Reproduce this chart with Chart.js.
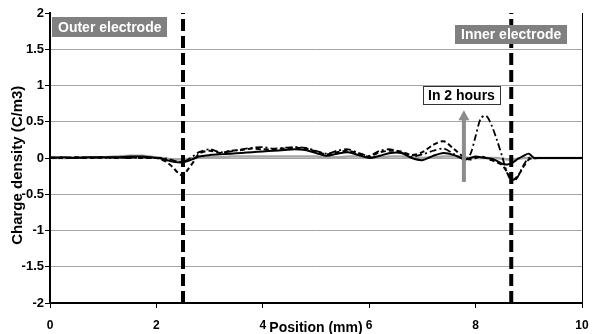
<!DOCTYPE html>
<html>
<head>
<meta charset="utf-8">
<script src="https://cdn.jsdelivr.net/npm/chart.js@4/dist/chart.umd.min.js"></script>
<style>
  body { margin: 0; background: #fff; }
</style>
</head>
<body>
<canvas id="canvas" width="593" height="334"></canvas>
<script>
// position across the cell (mm)
let positions = [
  0, 0.25, 0.5, 0.75, 1, 1.25, 1.5, 1.75, 2,
  2.1, 2.2, 2.3, 2.4, 2.5, 2.6, 2.7, 2.8,
  3, 3.2, 3.4, 3.6, 3.8, 4, 4.2, 4.4, 4.6, 4.8,
  5, 5.2, 5.4, 5.6, 5.8, 6, 6.2, 6.4, 6.6, 6.8,
  7, 7.2, 7.4, 7.6, 7.8,
  7.9, 8, 8.1, 8.2, 8.3, 8.4, 8.5, 8.6, 8.7, 8.8, 8.9, 9, 9.1, 9.2,
  9.5, 10
];

// charge density profiles (C/m3)
let profileStart = [
  0, 0, 0.01, 0.01, 0.01, 0.02, 0.03, 0.03, 0.01,
  0, -0.01, -0.02, -0.02, -0.02, -0.01, 0, 0.01,
  0.01, 0.01, 0.02, 0.02, 0.02, 0.02, 0.02, 0.02, 0.02, 0.02,
  0.02, 0.01, 0.01, 0.02, 0.02, 0.01, 0.01, 0.02, 0.02, 0.01,
  0, 0.01, 0.02, 0.02, 0.01,
  0, 0, 0, 0, 0, 0, -0.01, -0.02, -0.02, -0.01, 0, 0, 0, 0,
  0, 0
];
let profileSolid = [
  0, 0.01, 0, 0.01, 0.01, 0.01, 0.02, 0.02, 0,
  -0.01, -0.03, -0.05, -0.06, -0.06, -0.04, -0.01, 0.02,
  0.04, 0.05, 0.06, 0.07, 0.08, 0.09, 0.1, 0.11, 0.12, 0.11,
  0.07, 0.03, 0.06, 0.08, 0.04, 0, 0.03, 0.07, 0.07, 0,
  -0.03, 0.03, 0.07, 0.04, -0.02,
  0, 0.02, 0.01, 0, -0.01, -0.04, -0.08, -0.09, -0.06, -0.01, 0.03, 0.06, 0, 0,
  0, 0
];
let profileDash = [
  0.01, 0, 0.01, 0, 0.01, 0, 0.01, 0, 0,
  -0.02, -0.06, -0.12, -0.2, -0.24, -0.15, -0.05, 0.06,
  0.1, 0.07, 0.1, 0.11, 0.13, 0.12, 0.12, 0.13, 0.14, 0.13,
  0.09, 0.05, 0.08, 0.1, 0.06, 0.02, 0.08, 0.1, 0.09, 0.04,
  0.08, 0.18, 0.23, 0.12, 0,
  -0.02, 0, 0.02, 0, -0.03, -0.06, -0.1, -0.2, -0.3, -0.24, -0.12, -0.02, 0, 0,
  0, 0
];
let profileDashDot = [
  0, 0.01, 0, 0.01, 0, 0.01, 0, 0.01, 0,
  0, -0.01, -0.03, -0.05, -0.05, -0.02, 0.03, 0.08,
  0.12, 0.08, 0.09, 0.12, 0.14, 0.15, 0.13, 0.14, 0.15, 0.14,
  0.1, 0.06, 0.1, 0.12, 0.07, 0.03, 0.1, 0.12, 0.08, 0.02,
  0.05, 0.1, 0.13, 0.05, -0.02,
  0.05, 0.3, 0.55, 0.58, 0.45, 0.25, 0.02, -0.22, -0.33, -0.25, -0.1, 0, 0, 0,
  0, 0
];

// electrode positions (mm)
let outerElectrode = 2.5;
let innerElectrode = 8.67;

// axis ticks
let xTicks = [0, 2, 4, 6, 8, 10];
let yTicks = [-2, -1.5, -1, -0.5, 0, 0.5, 1, 1.5, 2];

let font = '"Liberation Sans", Arial, sans-serif';

function points(values) {
  return positions.map((x, i) => ({ x: x, y: values[i] }));
}

function electrode(x) {
  return [{ x: x, y: -2 }, { x: x, y: 2 }];
}

// labels, arrow, y title and right frame line drawn over the plot
let notes = {
  id: 'notes',
  afterDatasetsDraw(chart) {
    let { ctx, chartArea, scales: { x, y } } = chart;
    ctx.save();

    // right border of the plot area
    ctx.strokeStyle = '#000';
    ctx.lineWidth = 1;
    ctx.beginPath();
    ctx.moveTo(chartArea.right + 0.5, chartArea.top);
    ctx.lineTo(chartArea.right + 0.5, chartArea.bottom);
    ctx.stroke();

    // grey arrow
    let ax = x.getPixelForValue(7.78);
    let ay0 = y.getPixelForValue(-0.33);
    let ay1 = y.getPixelForValue(0.66);
    ctx.fillStyle = '#8c8c8c';
    ctx.fillRect(ax - 2, ay1 + 9, 4, ay0 - ay1 - 9);
    ctx.beginPath();
    ctx.moveTo(ax, ay1);
    ctx.lineTo(ax - 5.5, ay1 + 10);
    ctx.lineTo(ax + 5.5, ay1 + 10);
    ctx.closePath();
    ctx.fill();

    ctx.font = 'bold 14px ' + font;
    ctx.textBaseline = 'middle';
    let boxes = [
      { text: 'Outer electrode', x: 0.04, y: 1.94, pad: 6, h: 20, fill: '#808080', color: '#fff' },
      { text: 'Inner electrode', x: 7.61, y: 1.83, pad: 6, h: 19, fill: '#808080', color: '#fff' },
      { text: 'In 2 hours', x: 7.01, y: 1.0, pad: 5, h: 18, fill: '#fff', color: '#000', stroke: '#333' }
    ];
    boxes.forEach(b => {
      let bx = Math.round(x.getPixelForValue(b.x));
      let by = Math.round(y.getPixelForValue(b.y));
      let w = Math.round(ctx.measureText(b.text).width + b.pad * 2);
      ctx.fillStyle = b.fill;
      ctx.fillRect(bx, by, w, b.h);
      if (b.stroke) {
        ctx.strokeStyle = b.stroke;
        ctx.strokeRect(bx + 0.5, by + 0.5, w, b.h);
      }
      ctx.fillStyle = b.color;
      ctx.fillText(b.text, bx + b.pad, by + b.h / 2 + 1);
    });

    // y axis title, sits a little below the middle and over the tick labels
    ctx.font = 'bold 15px ' + font;
    ctx.fillStyle = '#000';
    ctx.textAlign = 'center';
    ctx.translate(18, y.getPixelForValue(-0.1));
    ctx.rotate(-Math.PI / 2);
    ctx.fillText('Charge density (C/m3)', 0, 0);

    ctx.restore();
  }
};

let lineStyle = { pointRadius: 0, tension: 0.3, fill: false };

let options = {
  type: 'line',
  data: {
    datasets: [
      Object.assign({ data: points(profileStart), borderColor: '#a6a6a6', borderWidth: 2.5, order: 5 }, lineStyle),
      Object.assign({ data: points(profileSolid), borderColor: '#000', borderWidth: 2, order: 2 }, lineStyle),
      Object.assign({ data: points(profileDash), borderColor: '#000', borderWidth: 2, borderDash: [5, 3], order: 3 }, lineStyle),
      Object.assign({ data: points(profileDashDot), borderColor: '#000', borderWidth: 1.8, borderDash: [7, 3, 2, 3], order: 4 }, lineStyle),
      { data: electrode(outerElectrode), borderColor: '#000', borderWidth: 4, borderDash: [12, 5], pointRadius: 0, order: 1 },
      { data: electrode(innerElectrode), borderColor: '#000', borderWidth: 4, borderDash: [12, 5], pointRadius: 0, order: 1 }
    ]
  },
  options: {
    responsive: false,
    animation: false,
    layout: { padding: { top: 13, right: 11, bottom: 0, left: 0 } },
    plugins: {
      legend: { display: false },
      tooltip: { enabled: false }
    },
    scales: {
      x: {
        type: 'linear',
        min: 0,
        max: 10,
        afterBuildTicks: axis => { axis.ticks = xTicks.map(v => ({ value: v })); },
        afterFit: axis => {
          axis.height = 31;
          axis.paddingLeft = 0;
          axis.paddingRight = 0;
        },
        border: { color: '#000', width: 2 },
        grid: { drawOnChartArea: false, tickLength: 5, tickColor: '#000' },
        ticks: {
          color: '#000',
          padding: 10,
          callback: v => String(v),
          font: { family: font, size: 12, weight: 'bold' }
        },
        title: {
          display: true,
          text: 'Position (mm)',
          color: '#000',
          padding: { top: 0, bottom: -3 },
          font: { family: font, size: 14, weight: 'bold' }
        }
      },
      y: {
        min: -2,
        max: 2,
        afterBuildTicks: axis => { axis.ticks = yTicks.map(v => ({ value: v })); },
        afterFit: axis => {
          axis.width = 50;
          axis.paddingTop = 0;
          axis.paddingBottom = 0;
        },
        border: { color: '#000', width: 2 },
        grid: {
          color: ctx => (ctx.tick && (ctx.tick.value === 2 || ctx.tick.value === -2)) ? 'rgba(0,0,0,0)' : '#a6a6a6',
          lineWidth: 1,
          tickLength: 5,
          tickColor: '#000'
        },
        ticks: {
          color: '#000',
          padding: 1,
          callback: v => String(v),
          font: { family: font, size: 13, weight: 'bold' }
        }
      }
    }
  },
  plugins: [notes]
};

let chart = new Chart(document.getElementById('canvas'), options);
</script>
</body>
</html>
